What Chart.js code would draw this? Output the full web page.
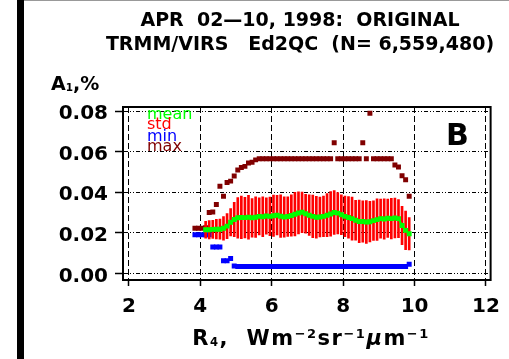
<!DOCTYPE html>
<html>
<head>
<meta charset="utf-8">
<script src="https://cdn.jsdelivr.net/npm/chart.js@4.4.1/dist/chart.umd.min.js"></script>
<style>
  html, body { margin: 0; padding: 0; background: #fff; }
  #wrap { position: relative; width: 509px; height: 359px; overflow: hidden; background: #fff; }
  #chart { position: absolute; left: 0; top: 0; }
  .txt { position: absolute; font-family: "DejaVu Sans", sans-serif; font-weight: bold; color: #000; white-space: pre; }
  .txt sub { font-size: 0.55em; vertical-align: baseline; position: relative; top: 0.05em; }
  .txt sup { font-size: 0.62em; vertical-align: baseline; position: relative; top: -0.55em; }
  .leg { position: absolute; font-family: "DejaVu Sans", sans-serif; font-size: 16px; line-height: 16px; white-space: pre; }
</style>
</head>
<body>
<div id="wrap">
  <canvas id="chart" width="509" height="359"></canvas>
  <div style="position:absolute;left:17px;top:0;width:7px;height:359px;background:#000;"></div>
  <div style="position:absolute;left:24px;top:0;width:485px;height:1px;background:#999;"></div>
  <div class="txt" style="left:100px;top:8px;width:400px;text-align:center;font-size:19px;line-height:23.5px;">APR  02—10, 1998:  ORIGINAL<br>TRMM/VIRS   Ed2QC  (N= 6,559,480)</div>
  <div class="txt" style="left:51px;top:72px;font-size:19px;line-height:23px;">A<sub>1</sub>,%</div>
  <div class="txt" style="left:161px;top:326px;width:300px;text-align:center;font-size:21px;line-height:24px;letter-spacing:1.5px;">R<sub>4</sub>,  Wm<sup>−2</sup>sr<sup>−1</sup><i>μ</i>m<sup>−1</sup></div>
  <div class="txt" style="left:446px;top:117px;font-size:30px;line-height:36px;">B</div>
  <div id="legend"></div>
</div>
<script>
// bin centres of R4
const rBins = [3.85, 3.95, 4.05, 4.15, 4.25, 4.35, 4.45, 4.55, 4.65, 4.75,
  4.85, 4.95, 5.05, 5.15, 5.25, 5.35, 5.45, 5.55, 5.65, 5.75,
  5.85, 5.95, 6.05, 6.15, 6.25, 6.35, 6.45, 6.55, 6.65, 6.75,
  6.85, 6.95, 7.05, 7.15, 7.25, 7.35, 7.45, 7.55, 7.65, 7.75,
  7.85, 7.95, 8.05, 8.15, 8.25, 8.35, 8.45, 8.55, 8.65, 8.75,
  8.85, 8.95, 9.05, 9.15, 9.25, 9.35, 9.45, 9.55, 9.65, 9.75, 9.85];

const meanVals = [null, null, null, 0.0215, 0.0215, 0.0217, 0.0218, 0.0218, 0.0222, 0.0233,
  0.0252, 0.0266, 0.0274, 0.0276, 0.0275, 0.0277, 0.0274, 0.0277, 0.0281, 0.0279,
  0.0283, 0.0281, 0.0284, 0.0287, 0.0282, 0.0278, 0.0280, 0.0285, 0.0292, 0.0298,
  0.0301, 0.0294, 0.0287, 0.0281, 0.0277, 0.0278, 0.0281, 0.0287, 0.0293, 0.0300,
  0.0297, 0.0289, 0.0281, 0.0276, 0.0270, 0.0262, 0.0256, 0.0256, 0.0253, 0.0255,
  0.0260, 0.0265, 0.0270, 0.0268, 0.0272, 0.0270, 0.0273, 0.0270, 0.0236, 0.0212, 0.0195];

const stdVals = [null, null, null, 0.0042, 0.0045, 0.0045, 0.0048, 0.0050, 0.0058, 0.0062,
  0.0068, 0.0085, 0.0100, 0.0105, 0.0100, 0.0108, 0.0095, 0.0100, 0.0092, 0.0098,
  0.0090, 0.0095, 0.0102, 0.0098, 0.0105, 0.0100, 0.0098, 0.0102, 0.0108, 0.0104,
  0.0100, 0.0096, 0.0100, 0.0105, 0.0103, 0.0098, 0.0100, 0.0106, 0.0110, 0.0108,
  0.0102, 0.0098, 0.0100, 0.0103, 0.0106, 0.0098, 0.0105, 0.0102, 0.0106, 0.0100,
  0.0098, 0.0103, 0.0096, 0.0100, 0.0095, 0.0100, 0.0098, 0.0094, 0.0095, 0.0095, 0.0080];

const minVals = [0.0190, 0.0190, 0.0190, 0.0190, 0.0190, 0.0130, 0.0130, 0.0130, 0.0062, 0.0062,
  0.0073, 0.0036, 0.0034, 0.0034, 0.0034, 0.0034, 0.0034, 0.0034, 0.0034, 0.0034,
  0.0034, 0.0034, 0.0034, 0.0034, 0.0034, 0.0034, 0.0034, 0.0034, 0.0034, 0.0034,
  0.0034, 0.0034, 0.0034, 0.0034, 0.0034, 0.0034, 0.0034, 0.0034, 0.0034, 0.0034,
  0.0034, 0.0034, 0.0034, 0.0034, 0.0034, 0.0034, 0.0034, 0.0034, 0.0034, 0.0034,
  0.0034, 0.0034, 0.0034, 0.0034, 0.0034, 0.0034, 0.0034, 0.0034, 0.0034, 0.0034, 0.0045];

const maxVals = [0.0222, 0.0222, 0.0222, 0.0225, 0.0300, 0.0303, 0.0340, 0.0430, 0.0380, 0.0448,
  0.0455, 0.0480, 0.0510, 0.0522, 0.0528, 0.0545, 0.0548, 0.0560, 0.0566, 0.0566,
  0.0566, 0.0566, 0.0566, 0.0566, 0.0566, 0.0566, 0.0566, 0.0566, 0.0566, 0.0566,
  0.0566, 0.0566, 0.0566, 0.0566, 0.0566, 0.0566, 0.0566, 0.0566, 0.0566, 0.0645,
  0.0566, 0.0566, 0.0566, 0.0566, 0.0566, 0.0566, 0.0566, 0.0645, 0.0566, 0.0790,
  0.0566, 0.0566, 0.0566, 0.0566, 0.0566, 0.0566, 0.0535, 0.0525, 0.0482, 0.0462, 0.0380];

const xTicks = [2, 4, 6, 8, 10, 12];
const yTicks = [0, 0.02, 0.04, 0.06, 0.08];
const yTickLabels = ['0.00', '0.02', '0.04', '0.06', '0.08'];

const legendNames = ['mean', 'std', 'min', 'max'];
const seriesColors = ['#00ff00', '#ff0000', '#0000ff', '#800000'];

// legend text, stacked tightly like the original
const legendTops = [106, 115.5, 128, 138];
const legendBox = document.getElementById('legend');
legendNames.forEach((name, i) => {
    const d = document.createElement('div');
    d.className = 'leg';
    d.style.left = '147px';
    d.style.top = legendTops[i] + 'px';
    d.style.color = seriesColors[i];
    d.textContent = name;
    legendBox.appendChild(d);
});

function points(vals) {
    const out = [];
    rBins.forEach((x, i) => {
        if (vals[i] !== null) out.push({ x: x, y: vals[i] });
    });
    return out;
}

const stdBars = [];
rBins.forEach((x, i) => {
    if (meanVals[i] !== null) stdBars.push({ x: x, y: [meanVals[i] - stdVals[i], meanVals[i] + stdVals[i]] });
});

// box around the plot area (top and right sides)
const boxPlugin = {
    id: 'box',
    afterDraw(chart) {
        const a = chart.chartArea;
        const ctx = chart.ctx;
        ctx.save();
        ctx.strokeStyle = '#000';
        ctx.lineWidth = 2;
        ctx.strokeRect(a.left, a.top, a.right - a.left, a.bottom - a.top);
        ctx.restore();
    }
};

const tickFont = { family: 'DejaVu Sans', weight: 'bold', size: 20 };

new Chart(document.getElementById('chart'), {
    type: 'scatter',
    data: {
        datasets: [
            {
                label: legendNames[0],
                data: points(meanVals),
                showLine: true,
                borderColor: seriesColors[0],
                backgroundColor: seriesColors[0],
                borderWidth: 2,
                pointStyle: 'rect',
                pointRadius: 3.5,
                pointBorderWidth: 0
            },
            {
                type: 'bar',
                label: legendNames[1],
                data: stdBars,
                backgroundColor: seriesColors[1],
                barThickness: 2
            },
            {
                label: legendNames[2],
                data: points(minVals),
                backgroundColor: seriesColors[2],
                pointStyle: 'rect',
                pointRadius: 3.5,
                pointBorderWidth: 0
            },
            {
                label: legendNames[3],
                data: points(maxVals),
                backgroundColor: seriesColors[3],
                pointStyle: 'rect',
                pointRadius: 3.5,
                pointBorderWidth: 0
            }
        ]
    },
    options: {
        responsive: false,
        animation: false,
        events: [],
        layout: { padding: { top: 107, right: 9, left: 0, bottom: 0 } },
        plugins: { legend: { display: false }, tooltip: { enabled: false } },
        scales: {
            x: {
                type: 'linear',
                min: 1.836,
                max: 12.13,
                offset: false,
                afterFit: s => { s.height = 79; },
                afterBuildTicks: s => { s.ticks = xTicks.map(v => ({ value: v })); },
                grid: { color: '#000', lineWidth: 1, tickLength: 6, tickWidth: 1.5, offset: false },
                border: { display: true, color: '#000', width: 2, dash: [6, 3] },
                ticks: { color: '#000', font: tickFont, padding: 9, maxRotation: 0, callback: v => String(v) }
            },
            y: {
                type: 'linear',
                min: -0.0033,
                max: 0.0821,
                afterFit: s => { s.width = 123; },
                afterBuildTicks: s => { s.ticks = yTicks.map(v => ({ value: v })); },
                grid: { color: '#000', lineWidth: 1, tickLength: 8, tickWidth: 1.5 },
                border: { display: true, color: '#000', width: 2, dash: [4, 2, 1, 2, 1, 2] },
                ticks: {
                    color: '#000', font: tickFont, padding: 7, labelOffset: 3,
                    callback: (v) => yTickLabels[yTicks.indexOf(v)]
                }
            }
        }
    },
    plugins: [boxPlugin]
});
</script>
</body>
</html>
